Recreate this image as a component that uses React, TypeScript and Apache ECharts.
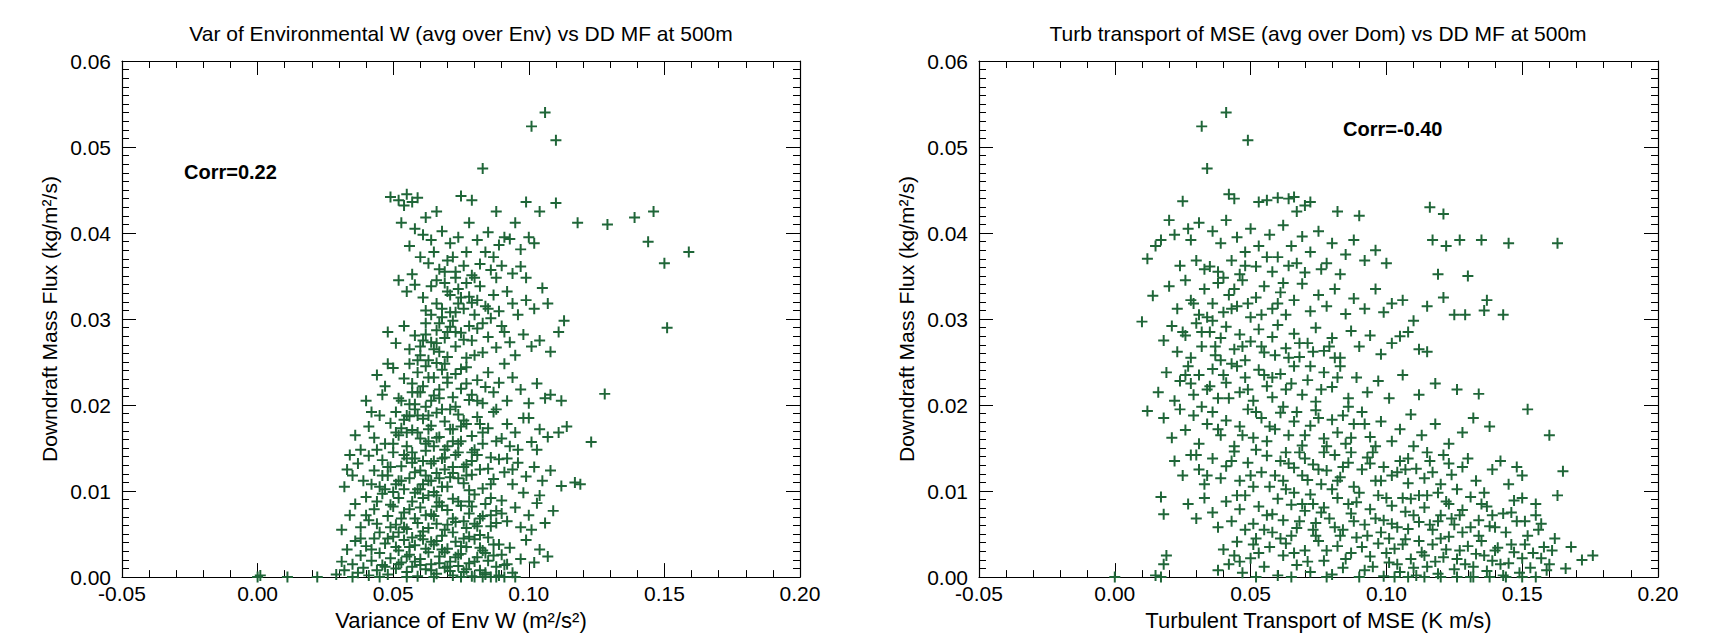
import React, { useEffect, useRef } from "react";
import * as echarts from "echarts";

const xTickLabels = ["-0.05", "0.00", "0.05", "0.10", "0.15", "0.20"];
const yTickLabels = ["0.00", "0.01", "0.02", "0.03", "0.04", "0.05", "0.06"];

const leftTitle = "Var of Environmental W (avg over Env) vs DD MF at 500m";
const rightTitle = "Turb transport of MSE (avg over Dom) vs DD MF at 500m";
const leftXName = "Variance of Env W (m²/s²)";
const rightXName = "Turbulent Transport of MSE (K m/s)";
const yName = "Downdraft Mass Flux (kg/m²/s)";
const leftCorr = "Corr=0.22";
const rightCorr = "Corr=-0.40";

const leftPoints: number[][] = [
  [0.106,0.054],[0.101,0.0524],[0.110,0.0508],[0.083,0.0475],
  [0.049,0.0442],[0.052,0.0438],[0.055,0.0445],[0.057,0.0436],[0.059,0.0441],[0.054,0.0432],[0.066,0.0425],[0.075,0.0443],[0.079,0.0438],[0.088,0.0425],[0.099,0.0436],[0.110,0.0435],[0.104,0.0425],
  [0.118,0.0412],[0.129,0.041],[0.139,0.0418],[0.146,0.0425],[0.144,0.039],[0.150,0.0365],[0.159,0.0378],[0.151,0.029],
  [0.113,0.0298],[0.128,0.0213],[0.123,0.0157],[0.117,0.011],[0.119,0.0108],[0.114,0.0175],[0.111,0.0168],[0.112,0.0205],[0.108,0.0212],
  [0.053,0.0412],[0.058,0.0405],[0.061,0.0398],[0.064,0.0392],[0.056,0.0385],[0.068,0.0402],[0.071,0.0388],[0.074,0.0395],[0.077,0.0378],[0.081,0.0392],[0.085,0.0401],[0.089,0.0386],[0.093,0.0393],[0.097,0.0381],[0.1,0.0395],[0.102,0.0388],[0.06,0.0372],[0.063,0.0365],[0.067,0.0358],[0.07,0.0368],[0.073,0.0355],[0.076,0.0362],[0.079,0.0351],[0.082,0.0364],[0.086,0.0357],[0.09,0.0362],[0.094,0.0353],[0.097,0.0361],[0.099,0.0348],[0.065,0.0378],[0.087,0.0372],[0.057,0.0352],
  [0.052,0.0345],[0.055,0.0332],[0.058,0.034],[0.061,0.0325],[0.064,0.0338],[0.066,0.0318],[0.069,0.0342],[0.071,0.0328],[0.074,0.0335],[0.076,0.0312],[0.078,0.0326],[0.08,0.0305],[0.082,0.0338],[0.084,0.0315],[0.087,0.0328],[0.089,0.0309],[0.092,0.0332],[0.094,0.0318],[0.096,0.0305],[0.099,0.0322],[0.102,0.0312],[0.105,0.0336],[0.107,0.0318],[0.068,0.0302],[0.073,0.0308],[0.062,0.031],[0.086,0.0301],[0.079,0.0319],
  [0.048,0.0285],[0.051,0.0272],[0.054,0.0292],[0.056,0.0265],[0.058,0.0281],[0.06,0.0258],[0.062,0.0295],[0.064,0.0273],[0.066,0.0287],[0.067,0.0262],[0.069,0.0278],[0.071,0.0291],[0.073,0.0268],[0.075,0.0284],[0.077,0.0255],[0.079,0.0275],[0.081,0.0289],[0.083,0.0261],[0.085,0.0279],[0.088,0.0267],[0.09,0.0292],[0.093,0.0273],[0.095,0.0258],[0.098,0.0282],[0.101,0.0268],[0.104,0.0275],[0.108,0.0262],[0.111,0.0285],[0.063,0.0252],[0.07,0.0256],
  [0.044,0.0235],[0.047,0.0222],[0.05,0.0243],[0.052,0.0208],[0.054,0.0231],[0.056,0.0248],[0.057,0.0215],[0.059,0.0238],[0.061,0.0222],[0.062,0.0245],[0.064,0.0205],[0.065,0.0232],[0.067,0.0218],[0.068,0.0241],[0.07,0.0226],[0.072,0.0209],[0.073,0.0236],[0.075,0.0219],[0.077,0.0244],[0.079,0.0212],[0.081,0.0229],[0.083,0.0202],[0.085,0.0238],[0.087,0.0215],[0.089,0.0226],[0.092,0.0205],[0.094,0.0232],[0.097,0.0218],[0.1,0.0202],[0.103,0.0225],[0.106,0.0208],[0.058,0.0201],[0.066,0.0249],
  [0.041,0.0175],[0.043,0.0162],[0.045,0.0188],[0.047,0.0155],[0.049,0.0179],[0.051,0.0192],[0.052,0.0165],[0.054,0.0183],[0.055,0.0152],[0.057,0.0171],[0.058,0.0195],[0.06,0.0161],[0.061,0.0184],[0.063,0.0158],[0.064,0.0176],[0.066,0.0191],[0.067,0.0163],[0.069,0.0181],[0.07,0.0152],[0.072,0.0172],[0.074,0.0189],[0.075,0.0158],[0.077,0.0178],[0.079,0.0164],[0.081,0.0186],[0.083,0.0155],[0.085,0.0173],[0.087,0.0192],[0.09,0.0161],[0.092,0.0178],[0.095,0.0168],[0.098,0.0185],[0.101,0.0157],[0.104,0.0172],[0.107,0.0163],[0.062,0.0198],[0.056,0.0187],
  [0.033,0.0125],[0.035,0.0118],[0.037,0.0132],[0.039,0.0112],[0.041,0.0141],[0.043,0.0124],[0.045,0.0105],[0.046,0.0136],[0.048,0.0118],[0.05,0.0145],[0.051,0.0108],[0.053,0.0129],[0.054,0.0142],[0.056,0.0115],[0.057,0.0133],[0.059,0.0102],[0.06,0.0124],[0.062,0.0147],[0.063,0.0112],[0.065,0.0135],[0.066,0.0121],[0.068,0.0105],[0.069,0.0139],[0.071,0.0116],[0.072,0.0128],[0.074,0.0145],[0.076,0.0109],[0.077,0.0131],[0.079,0.0119],[0.081,0.0142],[0.083,0.0103],[0.085,0.0126],[0.087,0.0114],[0.089,0.0137],[0.091,0.0122],[0.094,0.0108],[0.096,0.0133],[0.099,0.0117],[0.102,0.0128],[0.105,0.0112],[0.108,0.0124],[0.112,0.0106],[0.044,0.0148],[0.058,0.0138],
  [0.034,0.0072],[0.036,0.0085],[0.038,0.0058],[0.04,0.0093],[0.041,0.0066],[0.043,0.0079],[0.045,0.0052],[0.046,0.0097],[0.048,0.0071],[0.049,0.0084],[0.051,0.0061],[0.052,0.0092],[0.054,0.0075],[0.055,0.0056],[0.057,0.0088],[0.058,0.0068],[0.06,0.0081],[0.061,0.0053],[0.063,0.0095],[0.064,0.0073],[0.066,0.0062],[0.067,0.0087],[0.069,0.0055],[0.07,0.0078],[0.072,0.0091],[0.073,0.0064],[0.075,0.0083],[0.077,0.0057],[0.078,0.0074],[0.08,0.0096],[0.082,0.0068],[0.084,0.0085],[0.086,0.0059],[0.088,0.0077],[0.09,0.0089],[0.092,0.0065],[0.095,0.0081],[0.097,0.0058],[0.1,0.0072],[0.103,0.0086],[0.106,0.0063],[0.109,0.0077],[0.05,0.0099],[0.065,0.0099],
  [0.0,0.0],[0.001,0.0002],[0.011,0.0],[0.022,0.0],[0.029,0.0003],[0.031,0.0018],[0.032,0.0008],[0.033,0.0032],[0.035,0.0015],[0.036,0.0042],[0.037,0.0005],[0.038,0.0025],[0.039,0.0011],[0.04,0.0036],[0.041,0.0002],[0.042,0.0019],[0.043,0.0045],[0.044,0.0008],[0.045,0.0028],[0.046,0.0014],[0.047,0.0039],[0.048,0.0003],[0.049,0.0022],[0.05,0.0047],[0.051,0.001],[0.052,0.0031],[0.053,0.0017],[0.054,0.0043],[0.055,0.0006],[0.056,0.0026],[0.057,0.0012],[0.058,0.0037],[0.059,0.0001],[0.06,0.0021],[0.061,0.0044],[0.062,0.0009],[0.063,0.0029],[0.064,0.0015],[0.065,0.0038],[0.066,0.0004],[0.067,0.0024],[0.068,0.0048],[0.069,0.0011],[0.07,0.0033],[0.071,0.0018],[0.072,0.0002],[0.073,0.0041],[0.074,0.0013],[0.075,0.0027],[0.076,0.0006],[0.077,0.0035],[0.078,0.0016],[0.079,0.0001],[0.08,0.0044],[0.081,0.0023],[0.082,0.0008],[0.083,0.0031],[0.084,0.0003],[0.085,0.0019],[0.086,0.0],[0.087,0.0038],[0.088,0.0012],[0.089,0.0002],[0.09,0.0026],[0.091,0.0],[0.092,0.0015],[0.093,0.0034],[0.094,0.0005],[0.095,0.0],[0.097,0.0021],[0.099,0.0043],[0.102,0.0017],[0.104,0.0032],[0.107,0.0024],[0.035,0.0],[0.045,0.0],[0.055,0.0],[0.065,0.0],[0.075,0.0],[0.08,0.0],[0.083,0.0],[0.088,0.0],
  [0.047,0.0012],[0.049,0.0058],[0.051,0.0035],[0.053,0.0068],[0.055,0.0024],[0.056,0.0079],[0.057,0.0046],[0.059,0.0063],[0.06,0.0014],[0.061,0.0092],[0.062,0.0033],[0.063,0.0057],[0.064,0.0008],[0.065,0.0071],[0.066,0.0042],[0.067,0.0016],[0.068,0.0083],[0.069,0.0029],[0.07,0.0061],[0.071,0.0007],[0.072,0.0052],[0.073,0.0023],[0.074,0.0088],[0.075,0.0036],[0.076,0.0065],[0.077,0.0009],[0.078,0.0047],[0.079,0.0082],[0.08,0.0018],[0.081,0.0059],[0.082,0.0034],[0.083,0.0071],[0.084,0.0005],[0.085,0.0046],[0.086,0.0092],[0.087,0.0025],[0.088,0.0063],[0.089,0.0038],[0.09,0.0074],[0.091,0.0014],
  [0.048,0.0128],[0.05,0.0155],[0.052,0.0112],[0.053,0.0173],[0.055,0.0138],[0.056,0.0201],[0.058,0.0122],[0.059,0.0168],[0.06,0.0215],[0.061,0.0108],[0.062,0.0155],[0.063,0.0188],[0.064,0.0132],[0.065,0.0211],[0.066,0.0162],[0.067,0.0115],[0.068,0.0195],[0.069,0.0148],[0.07,0.0232],[0.071,0.0172],[0.072,0.0121],[0.073,0.0198],[0.074,0.0155],[0.075,0.0242],[0.076,0.0182],[0.077,0.0118],[0.078,0.0206],[0.079,0.0145],[0.08,0.0258],[0.082,0.0178],[0.084,0.0221],[0.086,0.0139],[0.088,0.0195],[0.091,0.0248],[0.093,0.0152],
  [0.06,0.0268],[0.062,0.0282],[0.064,0.0305],[0.066,0.0272],[0.068,0.0312],[0.07,0.0285],[0.072,0.0298],[0.074,0.0318],[0.076,0.0276],[0.078,0.0292],[0.07,0.0332],[0.073,0.0348],[0.077,0.0342],[0.081,0.0322],[0.083,0.0295],[0.085,0.0312],[0.088,0.0348],[0.091,0.0285],
  [0.038,0.0045],[0.04,0.0072],[0.042,0.0108],[0.044,0.0062],[0.046,0.0118],[0.048,0.0045],[0.05,0.0082],[0.052,0.0052],[0.054,0.0102],[0.058,0.0098],[0.062,0.0118],[0.066,0.0095],[0.07,0.0105],[0.074,0.0115],[0.078,0.0101],[0.082,0.0125],[0.086,0.0108],[0.094,0.0125],[0.098,0.0098],[0.101,0.0055],[0.104,0.0095],[0.031,0.0055],[0.032,0.0105],[0.034,0.0142],[0.036,0.0165],[0.038,0.0148],[0.04,0.0205],[0.042,0.0192],[0.046,0.0212],[0.048,0.0248],
  [0.052,0.0015],[0.054,0.0058],[0.056,0.0035],[0.058,0.0018],[0.06,0.0048],[0.062,0.0072],[0.064,0.0041],[0.066,0.0082],[0.068,0.0032],[0.07,0.0012],[0.072,0.0068],[0.074,0.0026],[0.076,0.0045],[0.078,0.0088],[0.08,0.0062],[0.082,0.0049],[0.084,0.0028],[0.086,0.0072],
  [0.053,0.0112],[0.055,0.0168],[0.057,0.0145],[0.059,0.0188],[0.061,0.0135],[0.063,0.0172],[0.065,0.0152],[0.067,0.0208],[0.069,0.0125],[0.071,0.0195],[0.073,0.0142],[0.075,0.0175],[0.077,0.0225],[0.079,0.0135],[0.081,0.0205],[0.083,0.0168],
  [0.059,0.0252],[0.061,0.0275],[0.063,0.0232],[0.065,0.0265],[0.067,0.0295],[0.069,0.0248],[0.071,0.0308],[0.073,0.0285],[0.075,0.0325],[0.069,0.0355],[0.072,0.0372],[0.066,0.0345],[0.08,0.0348],[0.084,0.0378],[0.091,0.0395],[0.078,0.0412],[0.062,0.0418],[0.095,0.0412],
  [0.042,0.0032],[0.044,0.0088],[0.047,0.0102],[0.049,0.0128],[0.051,0.0168],[0.053,0.0205],[0.055,0.0188],[0.057,0.0225],[0.059,0.0215],[0.06,0.0102],[0.064,0.0112],[0.068,0.0138],[0.072,0.0158],[0.076,0.0128],[0.08,0.0148],[0.088,0.0158],[0.092,0.0138],[0.096,0.0148],[0.1,0.0185],[0.103,0.0148]
];

const rightPoints: number[][] = [
  [0.041,0.054],[0.032,0.0524],[0.049,0.0508],[0.034,0.0475],
  [0.025,0.0437],[0.042,0.0445],[0.044,0.044],[0.053,0.0436],[0.056,0.0438],[0.06,0.0441],[0.064,0.044],[0.066,0.0442],[0.07,0.0432],[0.072,0.0436],[0.067,0.0425],
  [0.02,0.0415],[0.017,0.0392],[0.012,0.037],[0.015,0.0385],[0.022,0.0398],[0.027,0.0405],[0.033,0.0358],[0.035,0.0361],
  [0.082,0.0425],[0.09,0.042],[0.116,0.043],[0.121,0.0422],[0.117,0.0392],[0.122,0.0385],[0.127,0.0392],[0.135,0.0392],[0.145,0.0388],[0.163,0.0388],
  [0.13,0.035],[0.136,0.031],[0.143,0.0305],[0.137,0.0322],[0.129,0.0305],[0.121,0.0325],[0.119,0.0352],[0.11,0.0298],[0.102,0.0318],[0.105,0.028],[0.112,0.0265],[0.125,0.0305],
  [0.134,0.0213],[0.138,0.0175],[0.152,0.0195],[0.16,0.0165],[0.165,0.0123],[0.163,0.0095],[0.155,0.0085],[0.168,0.0035],[0.172,0.002],[0.176,0.0025],[0.166,0.001],
  [0.012,0.0193],[0.017,0.0093],[0.018,0.0073],[0.019,0.0025],[0.018,0.0015],[0.0,0.0],[0.017,0.0],[0.015,0.0002],[0.01,0.0297],[0.014,0.0327],
  [0.028,0.0392],[0.031,0.0412],[0.036,0.0402],[0.039,0.0388],[0.041,0.0415],[0.045,0.0395],[0.048,0.0378],[0.05,0.0405],[0.053,0.0385],[0.057,0.0398],[0.06,0.0372],[0.062,0.0409],[0.065,0.0385],[0.069,0.0396],[0.072,0.0378],[0.075,0.0402],[0.078,0.0365],[0.08,0.0388],[0.085,0.0375],[0.088,0.0392],[0.092,0.0368],[0.096,0.038],[0.043,0.0368],[0.038,0.0355],[0.046,0.0352],[0.052,0.0361],[0.058,0.0355],[0.064,0.0362],[0.07,0.0354],[0.076,0.0358],[0.083,0.0352],[0.1,0.0365],[0.03,0.0368],[0.024,0.0362],
  [0.02,0.0338],[0.023,0.0312],[0.026,0.0345],[0.028,0.0322],[0.031,0.0305],[0.033,0.0335],[0.036,0.0318],[0.038,0.0342],[0.04,0.0308],[0.042,0.0328],[0.045,0.0315],[0.047,0.0345],[0.05,0.0302],[0.052,0.0325],[0.055,0.0338],[0.058,0.0312],[0.061,0.0331],[0.063,0.0305],[0.066,0.0322],[0.069,0.0341],[0.072,0.0309],[0.075,0.0328],[0.078,0.0315],[0.081,0.0335],[0.085,0.0306],[0.088,0.0324],[0.092,0.0312],[0.096,0.0335],[0.099,0.0308],[0.106,0.0322],[0.115,0.0315],[0.034,0.0302],
  [0.018,0.0275],[0.021,0.0292],[0.023,0.0262],[0.026,0.0281],[0.028,0.0255],[0.03,0.0295],[0.032,0.0268],[0.035,0.0285],[0.037,0.0258],[0.039,0.0278],[0.041,0.0291],[0.044,0.0265],[0.046,0.0282],[0.048,0.0252],[0.05,0.0274],[0.053,0.0288],[0.055,0.0261],[0.058,0.0279],[0.06,0.0293],[0.063,0.0266],[0.066,0.0283],[0.068,0.0256],[0.071,0.0272],[0.074,0.029],[0.077,0.0263],[0.08,0.0278],[0.083,0.0255],[0.087,0.0286],[0.09,0.0268],[0.094,0.0281],[0.098,0.0259],[0.102,0.0272],[0.108,0.0285],[0.115,0.0262],
  [0.016,0.0215],[0.019,0.0238],[0.022,0.0205],[0.024,0.0228],[0.027,0.0245],[0.029,0.0212],[0.031,0.0235],[0.034,0.0218],[0.036,0.0242],[0.038,0.0208],[0.041,0.0226],[0.043,0.0248],[0.046,0.0215],[0.048,0.0232],[0.051,0.0205],[0.053,0.0241],[0.056,0.0222],[0.058,0.0209],[0.061,0.0236],[0.063,0.0218],[0.066,0.0245],[0.069,0.0212],[0.071,0.0229],[0.074,0.0204],[0.077,0.0238],[0.08,0.0221],[0.083,0.0245],[0.086,0.0208],[0.089,0.0232],[0.093,0.0215],[0.097,0.0228],[0.101,0.0208],[0.106,0.0235],[0.112,0.0212],[0.118,0.0225],[0.126,0.0218],
  [0.018,0.0185],[0.021,0.0162],[0.024,0.0195],[0.026,0.0171],[0.029,0.0188],[0.031,0.0155],[0.034,0.0178],[0.036,0.0192],[0.039,0.0165],[0.041,0.0182],[0.044,0.0152],[0.046,0.0175],[0.049,0.0195],[0.051,0.0162],[0.054,0.0185],[0.056,0.0158],[0.059,0.0172],[0.061,0.0191],[0.064,0.0165],[0.066,0.0181],[0.069,0.0153],[0.072,0.0176],[0.074,0.0194],[0.077,0.0161],[0.08,0.0183],[0.082,0.0168],[0.085,0.0155],[0.088,0.0178],[0.091,0.0192],[0.094,0.0163],[0.098,0.0181],[0.102,0.0158],[0.105,0.0172],[0.109,0.0189],[0.113,0.0165],[0.118,0.0178],[0.123,0.0155],[0.128,0.0168],[0.132,0.0185],
  [0.022,0.0135],[0.025,0.0118],[0.028,0.0142],[0.031,0.0125],[0.033,0.0108],[0.036,0.0138],[0.039,0.0115],[0.041,0.0129],[0.044,0.0146],[0.046,0.0112],[0.049,0.0133],[0.051,0.0105],[0.054,0.0122],[0.056,0.0141],[0.059,0.0118],[0.061,0.0135],[0.063,0.0102],[0.066,0.0127],[0.068,0.0145],[0.071,0.0113],[0.073,0.0131],[0.076,0.0108],[0.078,0.0124],[0.081,0.0142],[0.083,0.0116],[0.086,0.0133],[0.088,0.0105],[0.091,0.0125],[0.093,0.0139],[0.096,0.0112],[0.099,0.0128],[0.102,0.0118],[0.105,0.0135],[0.108,0.0109],[0.111,0.0126],[0.114,0.0115],[0.117,0.0122],[0.12,0.0108],[0.124,0.0119],[0.128,0.0128],[0.133,0.0112],[0.139,0.0125],[0.145,0.0108],[0.15,0.0118],
  [0.027,0.0085],[0.03,0.0068],[0.033,0.0092],[0.036,0.0075],[0.038,0.0058],[0.041,0.0088],[0.043,0.0065],[0.046,0.0079],[0.048,0.0095],[0.051,0.0062],[0.053,0.0082],[0.055,0.0055],[0.058,0.0073],[0.06,0.0091],[0.062,0.0066],[0.065,0.0084],[0.067,0.0057],[0.07,0.0077],[0.072,0.0096],[0.074,0.0063],[0.077,0.0081],[0.079,0.0068],[0.082,0.0092],[0.084,0.0055],[0.087,0.0074],[0.089,0.0087],[0.092,0.0061],[0.094,0.0079],[0.097,0.0095],[0.099,0.0066],[0.102,0.0083],[0.104,0.0058],[0.107,0.0076],[0.109,0.0091],[0.112,0.0064],[0.114,0.0081],[0.117,0.0055],[0.12,0.0072],[0.122,0.0088],[0.125,0.0061],[0.128,0.0078],[0.131,0.0093],[0.134,0.0066],[0.137,0.0082],[0.14,0.0058],[0.143,0.0074],[0.147,0.0089],[0.151,0.0065],[0.155,0.0072],
  [0.038,0.0008],[0.04,0.0032],[0.042,0.0015],[0.045,0.0041],[0.047,0.0005],[0.05,0.0022],[0.052,0.0045],[0.055,0.0012],[0.057,0.0035],[0.06,0.0002],[0.062,0.0025],[0.065,0.0048],[0.067,0.0014],[0.07,0.0031],[0.072,0.0006],[0.075,0.0042],[0.077,0.0019],[0.08,0.0003],[0.082,0.0036],[0.084,0.0011],[0.087,0.0028],[0.089,0.0046],[0.092,0.0008],[0.094,0.0024],[0.097,0.0039],[0.099,0.0001],[0.101,0.0017],[0.103,0.0033],[0.105,0.0006],[0.107,0.0044],[0.109,0.0021],[0.111,0.0002],[0.113,0.0029],[0.115,0.0012],[0.117,0.0038],[0.119,0.0004],[0.121,0.0023],[0.123,0.0047],[0.125,0.0009],[0.127,0.0031],[0.129,0.0015],[0.131,0.0],[0.133,0.0027],[0.135,0.0042],[0.137,0.0007],[0.139,0.0019],[0.141,0.0034],[0.143,0.0002],[0.145,0.0016],[0.147,0.0029],[0.149,0.0005],[0.151,0.0038],[0.153,0.0011],[0.155,0.0],[0.157,0.0022],[0.159,0.0008],[0.161,0.0031],[0.103,0.0],[0.108,0.0],[0.114,0.0],[0.12,0.0],[0.126,0.0],[0.132,0.0],[0.138,0.0],[0.144,0.0],[0.15,0.0],[0.052,0.0],[0.065,0.0],[0.078,0.0],[0.09,0.0],
  [0.044,0.0025],[0.048,0.0055],[0.053,0.0028],[0.058,0.0052],[0.063,0.0039],[0.068,0.0065],[0.071,0.0018],[0.074,0.0048],[0.078,0.0031],[0.081,0.0058],[0.085,0.0021],[0.088,0.0065],[0.091,0.0035],[0.095,0.0012],[0.098,0.0052],[0.1,0.0028],[0.102,0.0062],[0.104,0.0015],[0.106,0.0038],[0.108,0.0056],[0.11,0.0011],[0.112,0.0042],[0.114,0.0025],[0.116,0.0061],[0.118,0.0018],[0.12,0.0045],[0.122,0.0032],[0.124,0.0068],[0.126,0.0021],[0.128,0.0052],[0.13,0.0036],[0.132,0.0012],[0.134,0.0048],[0.136,0.0025],[0.138,0.0059],[0.14,0.0031],[0.142,0.0015],[0.144,0.0052],[0.146,0.0038],[0.148,0.0065],[0.15,0.0022],[0.152,0.0048],[0.154,0.0028],[0.156,0.0055],[0.158,0.0035],[0.16,0.0015],[0.162,0.0045],
  [0.062,0.0112],[0.066,0.0098],[0.07,0.0138],[0.073,0.0085],[0.077,0.0145],[0.08,0.0102],[0.084,0.0128],[0.09,0.0098],[0.095,0.0145],[0.1,0.0092],[0.104,0.0122],[0.108,0.0138],[0.112,0.0095],[0.116,0.0135],[0.119,0.0098],[0.123,0.0132],[0.126,0.0102],[0.13,0.0138],[0.136,0.0098],[0.142,0.0135],[0.148,0.0128],
  [0.035,0.0222],[0.039,0.0252],[0.042,0.0208],[0.047,0.0268],[0.052,0.0192],[0.055,0.0235],[0.059,0.0258],[0.062,0.0198],[0.065,0.0225],[0.068,0.0272],[0.072,0.0245],[0.076,0.0218],[0.079,0.0268],[0.082,0.0232],[0.086,0.0198],[0.038,0.0172],[0.043,0.0135],[0.047,0.0165],[0.052,0.0148],[0.057,0.0175],[0.063,0.0145],[0.067,0.0192],[0.07,0.0165],[0.075,0.0185],[0.078,0.0152],[0.084,0.0188],[0.087,0.0162],[0.092,0.0178],[0.096,0.0152],[0.03,0.0142],[0.034,0.0118],[0.026,0.0235],[0.025,0.0285],[0.029,0.0318],[0.032,0.0285],[0.036,0.0298],[0.043,0.0312],[0.049,0.0318],[0.054,0.0305],[0.06,0.0318],
  [0.046,0.0018],[0.051,0.0038],[0.056,0.0072],[0.061,0.0045],[0.066,0.0028],[0.069,0.0085],[0.073,0.0055],[0.076,0.0075],[0.083,0.0048],[0.086,0.0085],[0.093,0.0048],[0.096,0.0068],[0.101,0.0045],[0.106,0.0092],[0.11,0.0072],[0.115,0.0095],[0.119,0.0065],[0.123,0.0085],[0.127,0.0072],[0.131,0.0058],[0.135,0.0085],[0.139,0.0072],[0.146,0.0075],[0.15,0.0092],[0.157,0.0062],
  [0.045,0.0095],[0.05,0.0118],[0.057,0.0105],[0.064,0.0132],[0.069,0.0118],[0.075,0.0125],[0.082,0.0112],[0.087,0.0145],[0.094,0.0132],[0.098,0.0112],[0.107,0.0125],[0.11,0.0152],[0.115,0.0145],[0.121,0.0142],
  [0.028,0.0225],[0.032,0.0198],[0.037,0.0268],[0.04,0.0235],[0.045,0.0245],[0.049,0.0218],[0.054,0.0268],[0.058,0.0232],[0.064,0.0255],[0.073,0.0262],[0.081,0.0255],[0.04,0.0348],[0.044,0.0335],[0.048,0.0362],[0.056,0.0372],[0.062,0.0342],[0.067,0.0365]
];

const FONT = "'Liberation Sans', Arial, Helvetica, sans-serif";
const GREEN = "#1f6638";
const PLUS = "path://M4.1,0H5.9V4.1H10V5.9H5.9V10H4.1V5.9H0V4.1H4.1Z";

function xAxisDef(gridIndex: number, top: boolean, name: string) {
  return {
    type: "value",
    gridIndex,
    position: top ? "top" : "bottom",
    min: -0.05,
    max: 0.2,
    interval: 0.05,
    name: top ? "" : name,
    nameLocation: "middle",
    nameGap: 27,
    nameTextStyle: { fontFamily: FONT, fontSize: 22, color: "#000" },
    axisLine: { show: true, onZero: false, lineStyle: { color: "#000", width: 1.2 } },
    axisTick: { show: true, inside: true, length: 14, lineStyle: { color: "#000", width: 1 } },
    minorTick: { show: true, splitNumber: 5, length: 7, lineStyle: { color: "#000", width: 1 } },
    splitLine: { show: false },
    axisLabel: {
      show: !top,
      margin: 6,
      fontFamily: FONT,
      fontSize: 21,
      color: "#000",
      formatter: (v: number) => xTickLabels[Math.round((v + 0.05) / 0.05)] ?? v.toFixed(2),
    },
  };
}

function yAxisDef(gridIndex: number, right: boolean) {
  return {
    type: "value",
    gridIndex,
    position: right ? "right" : "left",
    min: 0,
    max: 0.06,
    interval: 0.01,
    name: right ? "" : yName,
    nameLocation: "middle",
    nameGap: 62,
    nameTextStyle: { fontFamily: FONT, fontSize: 21, color: "#000" },
    axisLine: { show: true, onZero: false, lineStyle: { color: "#000", width: 1.2 } },
    axisTick: { show: true, inside: true, length: 14, lineStyle: { color: "#000", width: 1 } },
    minorTick: { show: true, splitNumber: 10, length: 7, lineStyle: { color: "#000", width: 1 } },
    splitLine: { show: false },
    axisLabel: {
      show: !right,
      margin: 11,
      fontFamily: FONT,
      fontSize: 21,
      color: "#000",
      formatter: (v: number) => yTickLabels[Math.round(v / 0.01)] ?? v.toFixed(2),
    },
  };
}

export default function App() {
  const ref = useRef<HTMLDivElement>(null);
  useEffect(() => {
    if (!ref.current) return;
    const chart = echarts.init(ref.current, undefined, { renderer: "svg" });
    chart.setOption({
      animation: false,
      backgroundColor: "#fff",
      grid: [
        { left: 122, top: 61, width: 678, height: 522 },
        { left: 979, top: 61, width: 679, height: 522 },
      ],
      xAxis: [
        xAxisDef(0, false, leftXName),
        xAxisDef(0, true, ""),
        xAxisDef(1, false, rightXName),
        xAxisDef(1, true, ""),
      ],
      yAxis: [yAxisDef(0, false), yAxisDef(0, true), yAxisDef(1, false), yAxisDef(1, true)],
      graphic: [
        {
          type: "text", x: 461, y: 33,
          style: { text: leftTitle, font: `21px ${FONT}`, fill: "#000", align: "center", verticalAlign: "middle" },
        },
        {
          type: "text", x: 1318, y: 33,
          style: { text: rightTitle, font: `21px ${FONT}`, fill: "#000", align: "center", verticalAlign: "middle" },
        },
        {
          type: "text", x: 184, y: 172,
          style: { text: leftCorr, font: `bold 20px ${FONT}`, fill: "#000", align: "left", verticalAlign: "middle" },
        },
        {
          type: "text", x: 1343, y: 129,
          style: { text: rightCorr, font: `bold 20px ${FONT}`, fill: "#000", align: "left", verticalAlign: "middle" },
        },
      ],
      series: [
        {
          type: "scatter", xAxisIndex: 0, yAxisIndex: 0, data: leftPoints,
          symbol: PLUS, symbolSize: 11, clip: false, itemStyle: { color: GREEN, opacity: 1 },
        },
        {
          type: "scatter", xAxisIndex: 2, yAxisIndex: 2, data: rightPoints,
          symbol: PLUS, symbolSize: 11, clip: false, itemStyle: { color: GREEN, opacity: 1 },
        },
      ],
    });
    return () => chart.dispose();
  }, []);
  return (
    <div
      ref={ref}
      style={{ position: "absolute", left: 0, top: 0, width: 1720, height: 636, background: "#fff" }}
    />
  );
}
